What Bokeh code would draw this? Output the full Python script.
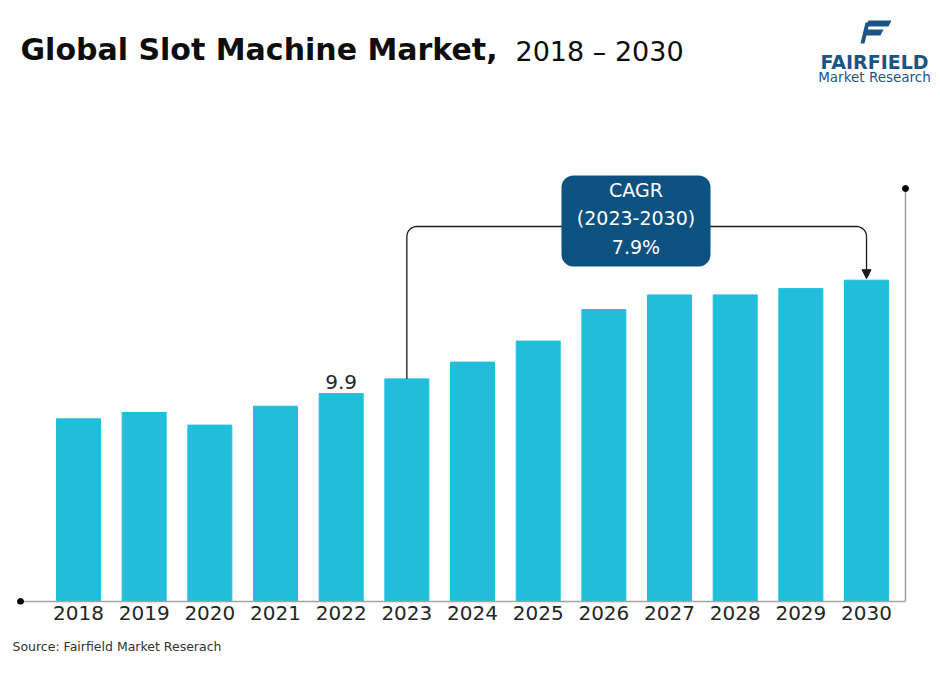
import math
from bokeh.plotting import figure
from bokeh.models import Range1d, FixedTicker, Label, BoxAnnotation, PolyAnnotation, Arrow, NormalHead, Title
from bokeh.embed import file_html
from bokeh.resources import INLINE

# ---------------- data ----------------
years = [2018, 2019, 2020, 2021, 2022, 2023, 2024, 2025, 2026, 2027, 2028, 2029, 2030]
market_size = [8.7, 9.0, 8.4, 9.3, 9.9, 10.6, 11.4, 12.4, 13.9, 14.6, 14.6, 14.9, 15.3]
year_labels = [str(y) for y in years]
highlight_year = 2022
highlight_label = "9.9"
cagr_lines = ["CAGR", "(2023-2030)", "7.9%"]
cagr_from, cagr_to = 2023, 2030
title_bold = "Global Slot Machine Market,"
title_years = "2018 \u2013 2030"
source_text = "Source: Fairfield Market Reserach"

# ---------------- style ----------------
BAR = "#21bedb"
BOX = "#0c5280"
AXIS = "#a3a3a3"
LOGO = "#1b5486"
FONT = "DejaVu Sans"

W, H = 936, 672
PXX = 65.67   # px per year
PXY = 21.0    # px per unit
X0 = 2018 - 78 / PXX
def X(w):
    return X0 + w / PXX
def Y(w):
    return (601 - w) / PXY

FRAME_BOTTOM = 604
p = figure(width=W, height=H, output_backend="svg", toolbar_location=None,
           x_range=Range1d(X(0), X(W)), y_range=Range1d(Y(FRAME_BOTTOM), Y(0)),
           y_axis_location=None, min_border_left=0, min_border_right=0,
           min_border_top=0, min_border_bottom=H - FRAME_BOTTOM)
p.outline_line_color = None
p.grid.visible = False
p.background_fill_color = "white"
p.border_fill_color = "white"

p.vbar(x=years, top=market_size, width=0.67, color=BAR)

ax = p.xaxis[0]
ax.ticker = FixedTicker(ticks=years)
ax.major_label_overrides = {y: s for y, s in zip(years, year_labels)}
ax.axis_line_color = None
ax.major_tick_line_color = None
ax.minor_tick_line_color = None
ax.major_tick_in = 0
ax.major_tick_out = 0
ax.major_label_text_font = FONT
ax.major_label_text_font_size = "20px"
ax.major_label_text_color = "#262626"
ax.major_label_standoff = 1

p.add_layout(Title(text=source_text, align="left", text_font=FONT, text_font_size="12.5px",
                   text_font_style="normal", text_color="#333333", offset=12, standoff=28), "below")

# axis lines + end dots
p.segment(x0=[X(20), X(905)], y0=[0, 0], x1=[X(905), X(905)], y1=[0, Y(188)],
          line_color=AXIS, line_width=1.6)
p.scatter(x=[X(20), X(905)], y=[0, Y(188)], size=6, color="black")

# highlight value label
hv = market_size[years.index(highlight_year)]
p.add_layout(Label(x=highlight_year, y=hv, y_offset=5, text=highlight_label,
                   text_align="center", text_baseline="bottom",
                   text_font=FONT, text_font_size="20px", text_color="#262626"))

# CAGR bracket
v_from = market_size[years.index(cagr_from)]
v_to = market_size[years.index(cagr_to)]
y_br = Y(226)
rx, ry = 10 / PXX, 10 / PXY
xs, ys = [cagr_from], [v_from]
for k in range(0, 11):
    a = math.pi - k * (math.pi / 2) / 10
    xs.append(cagr_from + rx + rx * math.cos(a))
    ys.append(y_br - ry + ry * math.sin(a))
for k in range(0, 11):
    a = math.pi / 2 - k * (math.pi / 2) / 10
    xs.append(cagr_to - rx + rx * math.cos(a))
    ys.append(y_br - ry + ry * math.sin(a))
p.line(xs, ys, line_color="#1a1a1a", line_width=1.3)
p.add_layout(Arrow(end=NormalHead(size=9, fill_color="#1a1a1a", line_color="#1a1a1a"),
                   x_start=cagr_to, y_start=y_br - ry, x_end=cagr_to, y_end=v_to + 1.5 / PXY,
                   line_color="#1a1a1a", line_width=1.3))

p.add_layout(BoxAnnotation(left=X(561), right=X(710), top=Y(175), bottom=Y(266),
                           fill_color=BOX, fill_alpha=1, line_color=None, border_radius=12))
for txt, wy in zip(cagr_lines, [189, 217, 246]):
    p.add_layout(Label(x=X(635.5), y=Y(wy), text=txt, text_align="center",
                       text_baseline="middle", text_font=FONT, text_font_size="19px",
                       text_color="white"))

# title
p.add_layout(Label(x=X(20), y=Y(49), text=title_bold, text_font=FONT,
                   text_font_style="bold", text_font_size="30px", text_color="#0d0d0d",
                   text_baseline="alphabetic"))
p.add_layout(Label(x=X(515), y=Y(51), text=title_years, text_font=FONT,
                   text_font_size="27px", text_color="#0d0d0d", text_baseline="alphabetic"))

# logo
p.add_layout(Label(x=X(874), y=Y(61), text="FAIRFIELD", text_font=FONT,
                   text_font_style="bold", text_font_size="19px", text_color=LOGO,
                   text_align="center", text_baseline="alphabetic"))
p.add_layout(Label(x=X(874), y=Y(76), text="Market Research", text_font=FONT,
                   text_font_size="13.5px", text_color=LOGO,
                   text_align="center", text_baseline="alphabetic"))
for poly in ([(868, 20), (891, 20), (888, 26), (865, 26)],
             [(866, 29), (883, 29), (880, 35), (863, 35)],
             [(865, 22), (869, 22), (864, 43), (860, 43)]):
    p.add_layout(PolyAnnotation(xs=[X(a) for a, b in poly], ys=[Y(b) for a, b in poly],
                                fill_color=LOGO, fill_alpha=1, line_color=None))

open("out.html", "w").write(file_html(p, INLINE))
